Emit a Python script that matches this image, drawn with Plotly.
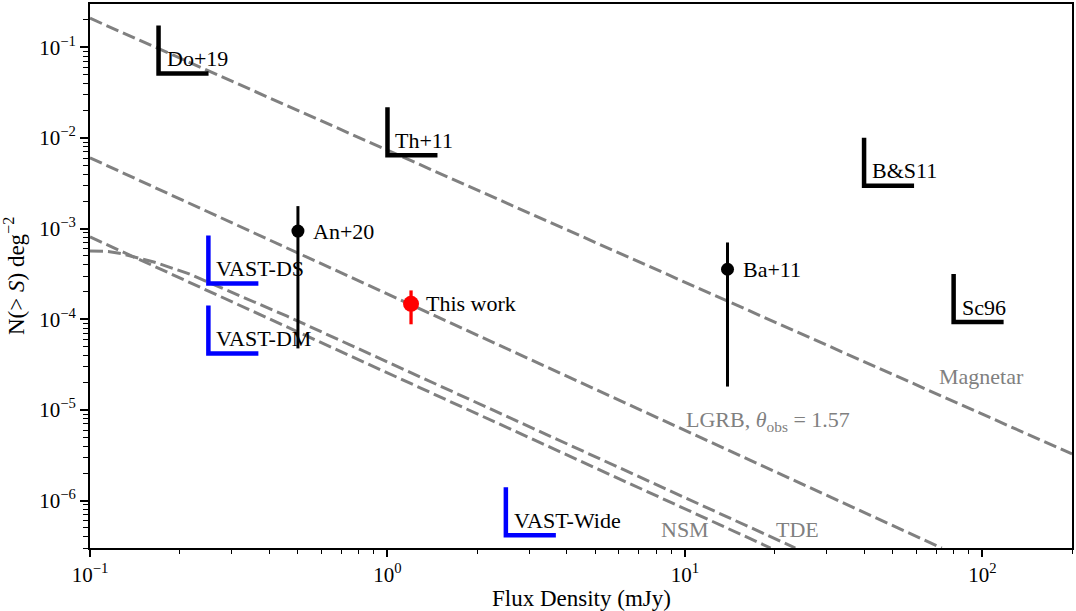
import numpy as np
import plotly.graph_objects as go

# ---------------- data ----------------
# dashed model curves (log-log)
mag_x = [0.1, 200.0]
mag_y = [0.209, 3.27e-6]
lgrb_x = [0.1, 73.0]
lgrb_y = [6.04e-3, 3.0e-7]
nsm_x = [0.1, 19.4]
nsm_y = [8.1e-4, 3.0e-7]
tde_x = [0.1, 0.115, 0.127, 0.145, 0.165, 0.213, 0.46, 23.5]
tde_y = [5.65e-4, 5.6e-4, 5.3e-4, 4.78e-4, 4.25e-4, 3.21e-4, 1.08e-4, 3.0e-7]

model_labels = ["Magnetar", "LGRB, <i>θ</i><sub>obs</sub> = 1.57", "NSM", "TDE"]
model_label_x = [70.3, 9.9, 8.2, 19.9]
model_label_y = [2.36e-5, 7.6e-6, 4.8e-7, 4.8e-7]

# upper limits from previous surveys (corner of the L symbol)
lit_names = ["Do+19", "Th+11", "B&S11", "Sc96"]
lit_x = [0.170, 1.0, 40.0, 80.0]
lit_y = [0.0513, 6.45e-3, 2.96e-3, 9.3e-5]

vast_names = ["VAST-DS", "VAST-DM", "VAST-Wide"]
vast_x = [0.25, 0.25, 2.5]
vast_y = [2.48e-4, 4.2e-5, 4.14e-7]

# detections with error bars
det_names = ["An+20", "Ba+11"]
det_x = [0.5, 13.9]
det_y = [9.4e-4, 3.56e-4]
det_hi = [1.77e-3, 7.03e-4]
det_lo = [4.77e-5, 1.81e-5]

this_name = ["This work"]
this_x = [1.2]
this_y = [1.48e-4]
this_hi = [2.08e-4]
this_lo = [8.8e-5]

x_tick_vals = [0.1, 1, 10, 100]
x_tick_text = ["10<sup>−1</sup>", "10<sup>0</sup>", "10<sup>1</sup>", "10<sup>2</sup>"]
y_tick_vals = [1e-6, 1e-5, 1e-4, 1e-3, 1e-2, 1e-1]
y_tick_text = ["10<sup>−6</sup>", "10<sup>−5</sup>", "10<sup>−4</sup>",
               "10<sup>−3</sup>", "10<sup>−2</sup>", "10<sup>−1</sup>"]

# ---------------- figure ----------------
FONT = "Liberation Serif"
GREY = "#808080"
fig = go.Figure()

for xs, ys in [(mag_x, mag_y), (lgrb_x, lgrb_y), (nsm_x, nsm_y), (tde_x, tde_y)]:
    fig.add_trace(go.Scatter(x=xs, y=ys, mode="lines",
                             line=dict(color=GREY, width=3, dash="13px,5px"),
                             showlegend=False, hoverinfo="skip"))

fig.add_trace(go.Scatter(
    x=det_x, y=det_y, mode="markers",
    marker=dict(color="black", size=13),
    error_y=dict(type="data", symmetric=False,
                 array=[h - v for h, v in zip(det_hi, det_y)],
                 arrayminus=[v - l for v, l in zip(det_y, det_lo)],
                 color="black", thickness=3, width=0),
    showlegend=False))

fig.add_trace(go.Scatter(
    x=this_x, y=this_y, mode="markers",
    marker=dict(color="red", size=16),
    error_y=dict(type="data", symmetric=False,
                 array=[h - v for h, v in zip(this_hi, this_y)],
                 arrayminus=[v - l for v, l in zip(this_y, this_lo)],
                 color="red", thickness=3.3, width=0),
    showlegend=False))

shapes = []
annotations = []
for names, xs, ys, col in [(lit_names, lit_x, lit_y, "black"),
                           (vast_names, vast_x, vast_y, "blue")]:
    for n, xv, yv in zip(names, xs, ys):
        shapes.append(dict(type="path", xref="x", yref="y",
                           xsizemode="pixel", ysizemode="pixel",
                           xanchor=xv, yanchor=yv,
                           path="M0,48 L0,0 L50,0",
                           line=dict(color=col, width=4.5)))
        annotations.append(dict(x=np.log10(xv), y=np.log10(yv), xref="x", yref="y",
                                text=n, showarrow=False, xanchor="left", yanchor="middle",
                                xshift=6, yshift=15,
                                font=dict(family=FONT, size=22, color="black")))

for n, xv, yv in zip(det_names + this_name, det_x + this_x, det_y + this_y):
    annotations.append(dict(x=np.log10(xv), y=np.log10(yv), xref="x", yref="y",
                            text=n, showarrow=False, xanchor="left", yanchor="middle",
                            xshift=13,
                            font=dict(family=FONT, size=22, color="black")))

for n, xv, yv in zip(model_labels, model_label_x, model_label_y):
    annotations.append(dict(x=np.log10(xv), y=np.log10(yv), xref="x", yref="y",
                            text=n, showarrow=False, xanchor="left", yanchor="middle",
                            font=dict(family=FONT, size=22, color=GREY)))

annotations.append(dict(x=0.5, y=0, xref="paper", yref="paper", text="Flux Density (mJy)",
                        showarrow=False, xanchor="center", yanchor="middle", yshift=-50,
                        font=dict(family=FONT, size=23, color="black")))
annotations.append(dict(x=0, y=0.5, xref="paper", yref="paper",
                        text="N(&gt; <i>S</i>) deg<sup>−2</sup>",
                        showarrow=False, xanchor="center", yanchor="middle", xshift=-76,
                        textangle=-90,
                        font=dict(family=FONT, size=23, color="black")))

x_minor = [m * 10.0 ** e for e in range(-1, 3) for m in range(2, 10) if m * 10.0 ** e <= 200]
y_minor = [m * 10.0 ** e for e in range(-7, 0) for m in range(2, 10) if 3e-7 <= m * 10.0 ** e <= 0.3]

axis_common = dict(type="log", showgrid=False, zeroline=False, showline=True,
                   linecolor="black", linewidth=2, mirror=True,
                   ticks="outside", tickcolor="black", tickwidth=1.5,
                   tickfont=dict(family=FONT, size=21, color="black"))

fig.update_layout(
    width=1076, height=611,
    margin=dict(l=90, r=2, t=2, b=63),
    plot_bgcolor="white", paper_bgcolor="white",
    shapes=shapes, annotations=annotations,
    xaxis=dict(range=[-1, np.log10(200)], tickmode="array", tickvals=x_tick_vals,
               ticktext=x_tick_text, ticklen=7,
               minor=dict(tickmode="array", tickvals=x_minor, ticks="outside",
                          ticklen=4, tickwidth=1, tickcolor="black", showgrid=False),
               **axis_common),
    yaxis=dict(range=[np.log10(3e-7), np.log10(0.3)], tickmode="array", tickvals=y_tick_vals,
               ticktext=y_tick_text, ticklen=8,
               minor=dict(tickmode="array", tickvals=y_minor, ticks="outside",
                          ticklen=5, tickwidth=1, tickcolor="black", showgrid=False),
               **axis_common),
)

fig.write_html("out.html", config={"displayModeBar": False},
               post_script="document.body.style.margin='0';document.body.style.overflow='hidden';")
